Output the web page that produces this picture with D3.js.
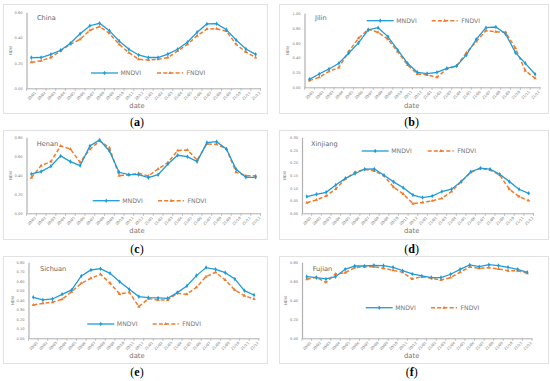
<!DOCTYPE html>
<html><head><meta charset="utf-8">
<script src="https://cdn.jsdelivr.net/npm/d3@7"></script>
<style>body{margin:0;background:#fff}svg{display:block}</style>
</head><body>
<svg id="c" width="550" height="381"></svg>
<script>
const dates = ["20/01","20/02","20/03","20/04","20/05","20/06","20/07","20/08","20/09","20/10","20/11","20/12",
               "21/01","21/02","21/03","21/04","21/05","21/06","21/07","21/08","21/09","21/10","21/11","21/12"];
const regions = ["China","Jilin","Henan","Xinjiang","Sichuan","Fujian"];
const panelLabels = ["(a)","(b)","(c)","(d)","(e)","(f)"];
const yMax = [0.6, 1.0, 0.8, 0.3, 0.8, 0.8];
const yStep = [0.2, 0.2, 0.2, 0.05, 0.1, 0.2];

const mndviChina = [0.242,0.243,0.268,0.300,0.355,0.430,0.494,0.513,0.455,0.373,0.308,0.263,0.243,0.243,0.270,0.308,0.363,0.442,0.508,0.510,0.463,0.381,0.310,0.268];
const fndviChina = [0.205,0.218,0.243,0.295,0.347,0.387,0.458,0.487,0.434,0.347,0.281,0.229,0.223,0.229,0.243,0.295,0.347,0.415,0.468,0.470,0.452,0.347,0.287,0.243];
const mndviJilin = [0.108,0.180,0.248,0.324,0.460,0.600,0.775,0.806,0.685,0.505,0.324,0.203,0.185,0.203,0.257,0.288,0.437,0.649,0.806,0.815,0.720,0.468,0.324,0.176];
const fndviJilin = [0.090,0.135,0.216,0.266,0.482,0.662,0.784,0.743,0.649,0.482,0.302,0.180,0.167,0.135,0.248,0.288,0.468,0.617,0.766,0.752,0.743,0.527,0.225,0.122];
const mndviHenan = [0.414,0.439,0.495,0.604,0.544,0.502,0.709,0.772,0.656,0.432,0.407,0.407,0.375,0.407,0.519,0.611,0.596,0.544,0.744,0.754,0.677,0.463,0.379,0.379];
const fndviHenan = [0.375,0.502,0.544,0.709,0.677,0.537,0.674,0.761,0.691,0.396,0.404,0.421,0.393,0.467,0.533,0.660,0.667,0.561,0.730,0.726,0.677,0.432,0.396,0.396];
const mndviXinjiang = [0.066,0.075,0.083,0.112,0.138,0.157,0.174,0.175,0.150,0.124,0.101,0.072,0.062,0.068,0.086,0.095,0.125,0.164,0.178,0.174,0.154,0.125,0.095,0.079];
const fndviXinjiang = [0.042,0.053,0.068,0.096,0.136,0.162,0.174,0.167,0.149,0.103,0.076,0.038,0.043,0.049,0.059,0.086,0.125,0.162,0.178,0.171,0.151,0.095,0.066,0.050];
const mndviSichuan = [0.432,0.404,0.414,0.463,0.509,0.656,0.719,0.733,0.684,0.596,0.516,0.439,0.428,0.425,0.421,0.481,0.551,0.660,0.744,0.726,0.691,0.625,0.502,0.456];
const fndviSichuan = [0.351,0.368,0.379,0.411,0.491,0.579,0.632,0.674,0.579,0.467,0.484,0.333,0.418,0.404,0.404,0.474,0.463,0.537,0.649,0.695,0.614,0.509,0.449,0.414];
const mndviFujian = [0.649,0.639,0.625,0.649,0.726,0.761,0.761,0.768,0.765,0.747,0.712,0.677,0.656,0.639,0.639,0.674,0.726,0.772,0.754,0.775,0.765,0.747,0.726,0.695];
const fndviFujian = [0.621,0.642,0.589,0.677,0.691,0.744,0.754,0.754,0.737,0.716,0.695,0.625,0.649,0.632,0.614,0.639,0.695,0.751,0.737,0.744,0.730,0.712,0.712,0.684];

const mndviAll = [mndviChina,mndviJilin,mndviHenan,mndviXinjiang,mndviSichuan,mndviFujian];
const fndviAll = [fndviChina,fndviJilin,fndviHenan,fndviXinjiang,fndviSichuan,fndviFujian];

// layout
const layout = [
  {box:[3,4,264,109],  px:[26.5,260.5], py:[12.3,88.3],  leg:[73,91,157],    title:[37,20],  lab:[137,122], date:108, ny:12},
  {box:[279,4,269,109],px:[304.5,540],  py:[13.3,87.3],  leg:[20.7,366.7,431.7], title:[315,20], lab:[411.7,122], date:108, ny:289},
  {box:[3,130,264,109],px:[26.5,260.5], py:[137.3,213.3],leg:[200.7,92.7,158], title:[36.7,146], lab:[137,249], date:233, ny:12},
  {box:[279,130,269,109],px:[302,533.5],py:[137.3,213.3],leg:[151,361.7,427.7], title:[311,146], lab:[411.7,249], date:233, ny:286},
  {box:[3,256,264,107],px:[28.5,258.8], py:[262.3,338.3],leg:[324,87.3,152.7], title:[40,271], lab:[137,372], date:358, ny:14},
  {box:[279,256,269,107],px:[302,532],  py:[262.3,338.3],leg:[307.7,365.7,431], title:[312.7,271], lab:[411.7,372], date:358, ny:287}
];

const blue = "#1f9bd8", orange = "#f07b2c", gray = "#888", axisCol = "#b0b0b0";
const svg = d3.select("#c");

function drawPanel(i){
  const L = layout[i];
  const g = svg.append("g");
  g.append("rect").attr("x",L.box[0]+0.5).attr("y",L.box[1]+0.5).attr("width",L.box[2]).attr("height",L.box[3])
    .attr("fill","none").attr("stroke","#e2e2e2").attr("stroke-width",1);

  const x = d3.scaleBand().domain(dates).range(L.px);
  const y = d3.scaleLinear().domain([0,yMax[i]]).range([L.py[1],L.py[0]]);
  const ticks = d3.range(0, yMax[i]+yStep[i]/2, yStep[i]);

  // y axis
  const ya = g.append("g").attr("transform",`translate(${L.px[0]},0)`)
    .call(d3.axisLeft(y).tickValues(ticks).tickSize(0).tickPadding(4).tickFormat(d3.format(".2f")));
  ya.select(".domain").attr("stroke",axisCol).attr("stroke-width",1.2);
  ya.selectAll("text").attr("font-size",3.6).attr("fill","#777").attr("font-family","DejaVu Sans");

  // x axis
  const xa = g.append("g").attr("transform",`translate(0,${L.py[1]})`)
    .call(d3.axisBottom(x).tickSize(0).tickPadding(3));
  xa.select(".domain").attr("stroke",axisCol).attr("stroke-width",1);
  xa.selectAll(".tick line").remove();
  // boundary tick marks
  const bounds = dates.map(d=>x(d)).concat([x(dates[dates.length-1])+x.bandwidth()]);
  g.selectAll(".bt").data(bounds).enter().append("line")
    .attr("x1",d=>d).attr("x2",d=>d).attr("y1",L.py[1]).attr("y2",L.py[1]+2.5)
    .attr("stroke",axisCol).attr("stroke-width",0.8);
  xa.selectAll("text").attr("font-size",3.6).attr("fill","#777").attr("font-family","DejaVu Sans")
    .attr("text-anchor","end").attr("dy","0.3em")
    .attr("transform","translate(2,2) rotate(-45)");

  // axis titles
  g.append("text").attr("x",L.lab[0]).attr("y",L.date).attr("text-anchor","middle")
    .attr("font-size",6.8).attr("fill","#777").attr("font-family","DejaVu Sans").text("date");
  const ym = (L.py[0]+L.py[1])/2;
  g.append("text").attr("transform",`translate(${L.ny},${ym}) rotate(-90)`).attr("text-anchor","middle")
    .attr("font-size",3.8).attr("fill","#777").attr("font-family","DejaVu Sans").text("NDVI");

  // title
  g.append("text").attr("x",L.title[0]).attr("y",L.title[1]).attr("font-size",6.6).attr("fill","#666")
    .attr("font-family","DejaVu Sans").text(regions[i]);

  const cx = d=>x(d)+x.bandwidth()/2;
  const line = d3.line().x((d,k)=>cx(dates[k])).y(d=>y(d));

  // FNDVI
  g.append("path").datum(fndviAll[i]).attr("d",line).attr("fill","none").attr("stroke",orange)
    .attr("stroke-width",1.5).attr("stroke-dasharray","4,2.2");
  const tri = d3.symbol().type(d3.symbolTriangle).size(5);
  g.selectAll(".ft").data(fndviAll[i]).enter().append("path").attr("d",tri)
    .attr("transform",(d,k)=>`translate(${cx(dates[k])},${y(d)})`).attr("fill",orange);

  // MNDVI
  g.append("path").datum(mndviAll[i]).attr("d",line).attr("fill","none").attr("stroke",blue).attr("stroke-width",1.3);
  const dia = d3.symbol().type(d3.symbolDiamond).size(6);
  g.selectAll(".md").data(mndviAll[i]).enter().append("path").attr("d",dia)
    .attr("transform",(d,k)=>`translate(${cx(dates[k])},${y(d)})`).attr("fill",blue);

  // legend
  const ly = L.leg[0], mx = L.leg[1], fx = L.leg[2];
  g.append("line").attr("x1",mx).attr("x2",mx+27).attr("y1",ly).attr("y2",ly).attr("stroke",blue).attr("stroke-width",1.3);
  g.append("path").attr("d",dia).attr("transform",`translate(${mx+13.5},${ly})`).attr("fill",blue);
  g.append("text").attr("x",mx+29.5).attr("y",ly+2.2).attr("font-size",6.2).attr("fill","#777")
    .attr("font-family","DejaVu Sans").text("MNDVI");
  g.append("line").attr("x1",fx).attr("x2",fx+26).attr("y1",ly).attr("y2",ly).attr("stroke",orange)
    .attr("stroke-width",1.5).attr("stroke-dasharray","4,2.2");
  g.append("path").attr("d",tri).attr("transform",`translate(${fx+13},${ly})`).attr("fill",orange);
  g.append("text").attr("x",fx+29.5).attr("y",ly+2.2).attr("font-size",6.2).attr("fill","#777")
    .attr("font-family","DejaVu Sans").text("FNDVI");

  // panel label
  svg.append("text").attr("x",L.lab[0]).attr("y",L.lab[1]+4).attr("text-anchor","middle")
    .attr("font-size",12).attr("fill","#000").attr("font-family","Liberation Serif")
    .html(`(<tspan font-weight="bold">${panelLabels[i].slice(1,2)}</tspan>)`);
}
for(let i=0;i<6;i++) drawPanel(i);
</script>
</body></html>
